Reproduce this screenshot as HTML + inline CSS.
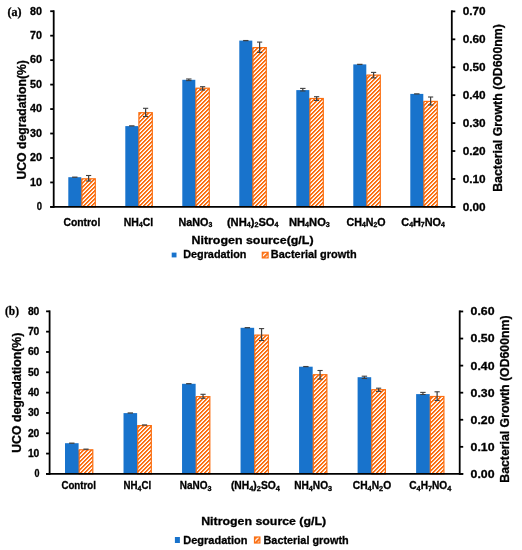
<!DOCTYPE html>
<html><head><meta charset="utf-8"><style>
html,body{margin:0;padding:0;background:#fff;}
body{width:522px;height:550px;overflow:hidden;}
svg{display:block;will-change:transform;}
</style></head><body>
<svg width="522" height="550" viewBox="0 0 522 550">
<defs>
<pattern id="hatch" patternUnits="userSpaceOnUse" width="4" height="4">
<rect x="0" y="0" width="4" height="4" fill="#fff"/>
<rect x="0" y="0" width="1" height="1" fill="#fb6f12"/><rect x="1" y="0" width="1" height="1" fill="#fb6f12"/><rect x="0" y="1" width="1" height="1" fill="#fb6f12"/><rect x="3" y="1" width="1" height="1" fill="#fb6f12"/><rect x="2" y="2" width="1" height="1" fill="#fb6f12"/><rect x="3" y="2" width="1" height="1" fill="#fb6f12"/><rect x="1" y="3" width="1" height="1" fill="#fb6f12"/><rect x="2" y="3" width="1" height="1" fill="#fb6f12"/><rect x="2" y="0" width="1" height="1" fill="#fdd9c0"/><rect x="1" y="1" width="1" height="1" fill="#fdd9c0"/><rect x="0" y="2" width="1" height="1" fill="#fdd9c0"/><rect x="3" y="3" width="1" height="1" fill="#fdd9c0"/>
</pattern>
<pattern id="hatch2" patternUnits="userSpaceOnUse" width="3.5" height="3.5" patternTransform="rotate(45)">
<rect x="0" y="0" width="3.5" height="3.5" fill="#fff"/>
<rect x="0" y="0" width="2.2" height="3.5" fill="#fb6f12"/>
</pattern>
</defs>
<rect x="0" y="0" width="522" height="550" fill="#fff"/>
<rect x="68.30" y="177.20" width="13.00" height="29.70" fill="#1873cc" />
<rect x="80.80" y="179.20" width="1.20" height="27.70" fill="#1873cc" />
<rect x="81.90" y="178.80" width="13.40" height="28.10" fill="url(#hatch)" stroke="#fb6f12" stroke-width="1.2"/>
<rect x="125.30" y="126.10" width="13.00" height="80.80" fill="#1873cc" />
<rect x="137.80" y="127.10" width="1.20" height="79.80" fill="#1873cc" />
<rect x="138.90" y="112.70" width="13.40" height="94.20" fill="url(#hatch)" stroke="#fb6f12" stroke-width="1.2"/>
<rect x="182.30" y="79.80" width="13.00" height="127.10" fill="#1873cc" />
<rect x="194.80" y="88.60" width="1.20" height="118.30" fill="#1873cc" />
<rect x="195.90" y="88.20" width="13.40" height="118.70" fill="url(#hatch)" stroke="#fb6f12" stroke-width="1.2"/>
<rect x="239.30" y="40.60" width="13.00" height="166.30" fill="#1873cc" />
<rect x="251.80" y="48.00" width="1.20" height="158.90" fill="#1873cc" />
<rect x="252.90" y="47.60" width="13.40" height="159.30" fill="url(#hatch)" stroke="#fb6f12" stroke-width="1.2"/>
<rect x="296.30" y="90.10" width="13.00" height="116.80" fill="#1873cc" />
<rect x="308.80" y="98.90" width="1.20" height="108.00" fill="#1873cc" />
<rect x="309.90" y="98.50" width="13.40" height="108.40" fill="url(#hatch)" stroke="#fb6f12" stroke-width="1.2"/>
<rect x="353.30" y="64.40" width="13.00" height="142.50" fill="#1873cc" />
<rect x="365.80" y="75.50" width="1.20" height="131.40" fill="#1873cc" />
<rect x="366.90" y="75.10" width="13.40" height="131.80" fill="url(#hatch)" stroke="#fb6f12" stroke-width="1.2"/>
<rect x="410.30" y="93.90" width="13.00" height="113.00" fill="#1873cc" />
<rect x="422.80" y="101.80" width="1.20" height="105.10" fill="#1873cc" />
<rect x="423.90" y="101.40" width="13.40" height="105.50" fill="url(#hatch)" stroke="#fb6f12" stroke-width="1.2"/>
<line x1="72.10" y1="177.20" x2="77.50" y2="177.20" stroke="#404040" stroke-width="1.3"/>
<line x1="88.60" y1="175.50" x2="88.60" y2="181.00" stroke="#404040" stroke-width="1.25"/>
<line x1="86.00" y1="175.50" x2="91.20" y2="175.50" stroke="#404040" stroke-width="1.1"/>
<line x1="86.00" y1="181.00" x2="91.20" y2="181.00" stroke="#404040" stroke-width="1.1"/>
<line x1="129.10" y1="125.90" x2="134.50" y2="125.90" stroke="#404040" stroke-width="1.3"/>
<line x1="145.60" y1="108.30" x2="145.60" y2="116.50" stroke="#404040" stroke-width="1.25"/>
<line x1="143.00" y1="108.30" x2="148.20" y2="108.30" stroke="#404040" stroke-width="1.1"/>
<line x1="143.00" y1="116.50" x2="148.20" y2="116.50" stroke="#404040" stroke-width="1.1"/>
<line x1="188.80" y1="79.00" x2="188.80" y2="80.60" stroke="#404040" stroke-width="1.25"/>
<line x1="186.10" y1="79.00" x2="191.50" y2="79.00" stroke="#404040" stroke-width="1.1"/>
<line x1="186.10" y1="80.60" x2="191.50" y2="80.60" stroke="#404040" stroke-width="1.1"/>
<line x1="202.60" y1="86.70" x2="202.60" y2="90.00" stroke="#404040" stroke-width="1.25"/>
<line x1="200.00" y1="86.70" x2="205.20" y2="86.70" stroke="#404040" stroke-width="1.1"/>
<line x1="200.00" y1="90.00" x2="205.20" y2="90.00" stroke="#404040" stroke-width="1.1"/>
<line x1="243.10" y1="40.60" x2="248.50" y2="40.60" stroke="#404040" stroke-width="1.3"/>
<line x1="259.60" y1="42.10" x2="259.60" y2="52.40" stroke="#404040" stroke-width="1.25"/>
<line x1="257.00" y1="42.10" x2="262.20" y2="42.10" stroke="#404040" stroke-width="1.1"/>
<line x1="257.00" y1="52.40" x2="262.20" y2="52.40" stroke="#404040" stroke-width="1.1"/>
<line x1="302.80" y1="88.40" x2="302.80" y2="91.00" stroke="#404040" stroke-width="1.25"/>
<line x1="300.10" y1="88.40" x2="305.50" y2="88.40" stroke="#404040" stroke-width="1.1"/>
<line x1="300.10" y1="91.00" x2="305.50" y2="91.00" stroke="#404040" stroke-width="1.1"/>
<line x1="316.60" y1="96.70" x2="316.60" y2="100.50" stroke="#404040" stroke-width="1.25"/>
<line x1="314.00" y1="96.70" x2="319.20" y2="96.70" stroke="#404040" stroke-width="1.1"/>
<line x1="314.00" y1="100.50" x2="319.20" y2="100.50" stroke="#404040" stroke-width="1.1"/>
<line x1="357.10" y1="64.40" x2="362.50" y2="64.40" stroke="#404040" stroke-width="1.3"/>
<line x1="373.60" y1="72.40" x2="373.60" y2="77.90" stroke="#404040" stroke-width="1.25"/>
<line x1="371.00" y1="72.40" x2="376.20" y2="72.40" stroke="#404040" stroke-width="1.1"/>
<line x1="371.00" y1="77.90" x2="376.20" y2="77.90" stroke="#404040" stroke-width="1.1"/>
<line x1="414.10" y1="93.90" x2="419.50" y2="93.90" stroke="#404040" stroke-width="1.3"/>
<line x1="430.60" y1="97.00" x2="430.60" y2="105.00" stroke="#404040" stroke-width="1.25"/>
<line x1="428.00" y1="97.00" x2="433.20" y2="97.00" stroke="#404040" stroke-width="1.1"/>
<line x1="428.00" y1="105.00" x2="433.20" y2="105.00" stroke="#404040" stroke-width="1.1"/>
<line x1="53.70" y1="10.30" x2="53.70" y2="207.80" stroke="#000" stroke-width="1.8"/>
<line x1="451.80" y1="10.30" x2="451.80" y2="207.80" stroke="#000" stroke-width="1.8"/>
<line x1="50.20" y1="206.90" x2="455.30" y2="206.90" stroke="#000" stroke-width="1.8"/>
<line x1="50.20" y1="206.90" x2="53.70" y2="206.90" stroke="#000" stroke-width="1.8"/>
<line x1="50.20" y1="182.44" x2="53.70" y2="182.44" stroke="#000" stroke-width="1.8"/>
<line x1="50.20" y1="157.98" x2="53.70" y2="157.98" stroke="#000" stroke-width="1.8"/>
<line x1="50.20" y1="133.52" x2="53.70" y2="133.52" stroke="#000" stroke-width="1.8"/>
<line x1="50.20" y1="109.06" x2="53.70" y2="109.06" stroke="#000" stroke-width="1.8"/>
<line x1="50.20" y1="84.60" x2="53.70" y2="84.60" stroke="#000" stroke-width="1.8"/>
<line x1="50.20" y1="60.14" x2="53.70" y2="60.14" stroke="#000" stroke-width="1.8"/>
<line x1="50.20" y1="35.68" x2="53.70" y2="35.68" stroke="#000" stroke-width="1.8"/>
<line x1="50.20" y1="11.22" x2="53.70" y2="11.22" stroke="#000" stroke-width="1.8"/>
<line x1="451.80" y1="206.90" x2="455.30" y2="206.90" stroke="#000" stroke-width="1.8"/>
<line x1="451.80" y1="178.97" x2="455.30" y2="178.97" stroke="#000" stroke-width="1.8"/>
<line x1="451.80" y1="151.04" x2="455.30" y2="151.04" stroke="#000" stroke-width="1.8"/>
<line x1="451.80" y1="123.11" x2="455.30" y2="123.11" stroke="#000" stroke-width="1.8"/>
<line x1="451.80" y1="95.18" x2="455.30" y2="95.18" stroke="#000" stroke-width="1.8"/>
<line x1="451.80" y1="67.25" x2="455.30" y2="67.25" stroke="#000" stroke-width="1.8"/>
<line x1="451.80" y1="39.32" x2="455.30" y2="39.32" stroke="#000" stroke-width="1.8"/>
<line x1="451.80" y1="11.39" x2="455.30" y2="11.39" stroke="#000" stroke-width="1.8"/>
<text x="36.80" y="210.20" font-family='"Liberation Sans", sans-serif' font-weight="bold" font-size="10.50" fill="#000" stroke="#000" stroke-width="0.3" textLength="5.26" lengthAdjust="spacingAndGlyphs"><tspan font-size="10.50" dy="0.00">0</tspan></text>
<text x="30.10" y="185.74" font-family='"Liberation Sans", sans-serif' font-weight="bold" font-size="10.50" fill="#000" stroke="#000" stroke-width="0.3" textLength="11.96" lengthAdjust="spacingAndGlyphs"><tspan font-size="10.50" dy="0.00">10</tspan></text>
<text x="30.10" y="161.28" font-family='"Liberation Sans", sans-serif' font-weight="bold" font-size="10.50" fill="#000" stroke="#000" stroke-width="0.3" textLength="11.96" lengthAdjust="spacingAndGlyphs"><tspan font-size="10.50" dy="0.00">20</tspan></text>
<text x="30.10" y="136.82" font-family='"Liberation Sans", sans-serif' font-weight="bold" font-size="10.50" fill="#000" stroke="#000" stroke-width="0.3" textLength="11.96" lengthAdjust="spacingAndGlyphs"><tspan font-size="10.50" dy="0.00">30</tspan></text>
<text x="30.10" y="112.36" font-family='"Liberation Sans", sans-serif' font-weight="bold" font-size="10.50" fill="#000" stroke="#000" stroke-width="0.3" textLength="11.96" lengthAdjust="spacingAndGlyphs"><tspan font-size="10.50" dy="0.00">40</tspan></text>
<text x="30.10" y="87.90" font-family='"Liberation Sans", sans-serif' font-weight="bold" font-size="10.50" fill="#000" stroke="#000" stroke-width="0.3" textLength="11.96" lengthAdjust="spacingAndGlyphs"><tspan font-size="10.50" dy="0.00">50</tspan></text>
<text x="30.10" y="63.44" font-family='"Liberation Sans", sans-serif' font-weight="bold" font-size="10.50" fill="#000" stroke="#000" stroke-width="0.3" textLength="11.96" lengthAdjust="spacingAndGlyphs"><tspan font-size="10.50" dy="0.00">60</tspan></text>
<text x="30.10" y="38.98" font-family='"Liberation Sans", sans-serif' font-weight="bold" font-size="10.50" fill="#000" stroke="#000" stroke-width="0.3" textLength="11.96" lengthAdjust="spacingAndGlyphs"><tspan font-size="10.50" dy="0.00">70</tspan></text>
<text x="30.10" y="14.52" font-family='"Liberation Sans", sans-serif' font-weight="bold" font-size="10.50" fill="#000" stroke="#000" stroke-width="0.3" textLength="11.96" lengthAdjust="spacingAndGlyphs"><tspan font-size="10.50" dy="0.00">80</tspan></text>
<text x="462.70" y="210.50" font-family='"Liberation Sans", sans-serif' font-weight="bold" font-size="10.50" fill="#000" stroke="#000" stroke-width="0.3" textLength="22.95" lengthAdjust="spacingAndGlyphs"><tspan font-size="10.50" dy="0.00">0.00</tspan></text>
<text x="462.70" y="182.57" font-family='"Liberation Sans", sans-serif' font-weight="bold" font-size="10.50" fill="#000" stroke="#000" stroke-width="0.3" textLength="22.95" lengthAdjust="spacingAndGlyphs"><tspan font-size="10.50" dy="0.00">0.10</tspan></text>
<text x="462.70" y="154.64" font-family='"Liberation Sans", sans-serif' font-weight="bold" font-size="10.50" fill="#000" stroke="#000" stroke-width="0.3" textLength="22.95" lengthAdjust="spacingAndGlyphs"><tspan font-size="10.50" dy="0.00">0.20</tspan></text>
<text x="462.70" y="126.71" font-family='"Liberation Sans", sans-serif' font-weight="bold" font-size="10.50" fill="#000" stroke="#000" stroke-width="0.3" textLength="22.95" lengthAdjust="spacingAndGlyphs"><tspan font-size="10.50" dy="0.00">0.30</tspan></text>
<text x="462.70" y="98.78" font-family='"Liberation Sans", sans-serif' font-weight="bold" font-size="10.50" fill="#000" stroke="#000" stroke-width="0.3" textLength="22.95" lengthAdjust="spacingAndGlyphs"><tspan font-size="10.50" dy="0.00">0.40</tspan></text>
<text x="462.70" y="70.85" font-family='"Liberation Sans", sans-serif' font-weight="bold" font-size="10.50" fill="#000" stroke="#000" stroke-width="0.3" textLength="22.95" lengthAdjust="spacingAndGlyphs"><tspan font-size="10.50" dy="0.00">0.50</tspan></text>
<text x="462.70" y="42.92" font-family='"Liberation Sans", sans-serif' font-weight="bold" font-size="10.50" fill="#000" stroke="#000" stroke-width="0.3" textLength="22.95" lengthAdjust="spacingAndGlyphs"><tspan font-size="10.50" dy="0.00">0.60</tspan></text>
<text x="462.70" y="14.99" font-family='"Liberation Sans", sans-serif' font-weight="bold" font-size="10.50" fill="#000" stroke="#000" stroke-width="0.3" textLength="22.95" lengthAdjust="spacingAndGlyphs"><tspan font-size="10.50" dy="0.00">0.70</tspan></text>
<text x="63.40" y="225.70" font-family='"Liberation Sans", sans-serif' font-weight="bold" font-size="10.30" fill="#000" stroke="#000" stroke-width="0.3" textLength="36.88" lengthAdjust="spacingAndGlyphs"><tspan font-size="10.30" dy="0.00">Control</tspan></text>
<text x="123.80" y="225.70" font-family='"Liberation Sans", sans-serif' font-weight="bold" font-size="10.30" fill="#000" stroke="#000" stroke-width="0.3" textLength="29.38" lengthAdjust="spacingAndGlyphs"><tspan font-size="10.30" dy="0.00">NH</tspan><tspan font-size="6.59" dy="1.03">4</tspan><tspan font-size="10.30" dy="-1.03">Cl</tspan></text>
<text x="178.50" y="225.70" font-family='"Liberation Sans", sans-serif' font-weight="bold" font-size="10.30" fill="#000" stroke="#000" stroke-width="0.3" textLength="33.76" lengthAdjust="spacingAndGlyphs"><tspan font-size="10.30" dy="0.00">NaNO</tspan><tspan font-size="6.59" dy="1.03">3</tspan></text>
<text x="226.90" y="225.70" font-family='"Liberation Sans", sans-serif' font-weight="bold" font-size="10.30" fill="#000" stroke="#000" stroke-width="0.3" textLength="51.65" lengthAdjust="spacingAndGlyphs"><tspan font-size="10.30" dy="0.00">(NH</tspan><tspan font-size="6.59" dy="1.03">4</tspan><tspan font-size="10.30" dy="-1.03">)</tspan><tspan font-size="6.59" dy="1.03">2</tspan><tspan font-size="10.30" dy="-1.03">SO</tspan><tspan font-size="6.59" dy="1.03">4</tspan></text>
<text x="289.00" y="225.70" font-family='"Liberation Sans", sans-serif' font-weight="bold" font-size="10.30" fill="#000" stroke="#000" stroke-width="0.3" textLength="40.85" lengthAdjust="spacingAndGlyphs"><tspan font-size="10.30" dy="0.00">NH</tspan><tspan font-size="6.59" dy="1.03">4</tspan><tspan font-size="10.30" dy="-1.03">NO</tspan><tspan font-size="6.59" dy="1.03">3</tspan></text>
<text x="346.60" y="225.70" font-family='"Liberation Sans", sans-serif' font-weight="bold" font-size="10.30" fill="#000" stroke="#000" stroke-width="0.3" textLength="38.98" lengthAdjust="spacingAndGlyphs"><tspan font-size="10.30" dy="0.00">CH</tspan><tspan font-size="6.59" dy="1.03">4</tspan><tspan font-size="10.30" dy="-1.03">N</tspan><tspan font-size="6.59" dy="1.03">2</tspan><tspan font-size="10.30" dy="-1.03">O</tspan></text>
<text x="401.30" y="225.70" font-family='"Liberation Sans", sans-serif' font-weight="bold" font-size="10.30" fill="#000" stroke="#000" stroke-width="0.3" textLength="43.66" lengthAdjust="spacingAndGlyphs"><tspan font-size="10.30" dy="0.00">C</tspan><tspan font-size="6.59" dy="1.03">4</tspan><tspan font-size="10.30" dy="-1.03">H</tspan><tspan font-size="6.59" dy="1.03">7</tspan><tspan font-size="10.30" dy="-1.03">NO</tspan><tspan font-size="6.59" dy="1.03">4</tspan></text>
<text x="191.50" y="244.20" font-family='"Liberation Sans", sans-serif' font-weight="bold" font-size="11.20" fill="#000" stroke="#000" stroke-width="0.3" textLength="122.04" lengthAdjust="spacingAndGlyphs"><tspan font-size="11.20" dy="0.00">Nitrogen source(g/L)</tspan></text>
<text x="25.90" y="179.60" transform="rotate(-90 25.90 179.60)" font-family='"Liberation Sans", sans-serif' font-weight="bold" font-size="12.90" fill="#000" stroke="#000" stroke-width="0.3" textLength="119.54" lengthAdjust="spacingAndGlyphs"><tspan font-size="12.90" dy="0.00">UCO degradation(%)</tspan></text>
<text x="502.30" y="191.80" transform="rotate(-90 502.30 191.80)" font-family='"Liberation Sans", sans-serif' font-weight="bold" font-size="12.90" fill="#000" stroke="#000" stroke-width="0.3" textLength="167.64" lengthAdjust="spacingAndGlyphs"><tspan font-size="12.90" dy="0.00">Bacterial Growth (OD600nm)</tspan></text>
<rect x="171.70" y="252.60" width="4.80" height="4.80" fill="#1873cc" />
<rect x="262.30" y="252.30" width="5.80" height="5.60" fill="url(#hatch2)" stroke="#fb6f12" stroke-width="1.2"/>
<text x="183.20" y="257.80" font-family='"Liberation Sans", sans-serif' font-weight="bold" font-size="11.20" fill="#000" stroke="#000" stroke-width="0.3" textLength="63.21" lengthAdjust="spacingAndGlyphs"><tspan font-size="11.20" dy="0.00">Degradation</tspan></text>
<text x="270.80" y="257.80" font-family='"Liberation Sans", sans-serif' font-weight="bold" font-size="11.20" fill="#000" stroke="#000" stroke-width="0.3" textLength="85.81" lengthAdjust="spacingAndGlyphs"><tspan font-size="11.20" dy="0.00">Bacterial growth</tspan></text>
<text x="7.60" y="15.60" font-family='"Liberation Serif", serif' font-weight="bold" font-size="12.00" fill="#000" stroke="#000" stroke-width="0.3" textLength="14.04" lengthAdjust="spacingAndGlyphs"><tspan font-size="12.00" dy="0.00">(a)</tspan></text>
<rect x="65.00" y="443.20" width="13.60" height="30.70" fill="#1873cc" />
<rect x="78.10" y="450.20" width="1.20" height="23.70" fill="#1873cc" />
<rect x="79.20" y="449.80" width="13.60" height="24.10" fill="url(#hatch)" stroke="#fb6f12" stroke-width="1.2"/>
<rect x="123.52" y="413.10" width="13.60" height="60.80" fill="#1873cc" />
<rect x="136.62" y="426.00" width="1.20" height="47.90" fill="#1873cc" />
<rect x="137.72" y="425.60" width="13.60" height="48.30" fill="url(#hatch)" stroke="#fb6f12" stroke-width="1.2"/>
<rect x="182.04" y="383.80" width="13.60" height="90.10" fill="#1873cc" />
<rect x="195.14" y="397.00" width="1.20" height="76.90" fill="#1873cc" />
<rect x="196.24" y="396.60" width="13.60" height="77.30" fill="url(#hatch)" stroke="#fb6f12" stroke-width="1.2"/>
<rect x="240.56" y="327.80" width="13.60" height="146.10" fill="#1873cc" />
<rect x="253.66" y="335.50" width="1.20" height="138.40" fill="#1873cc" />
<rect x="254.76" y="335.10" width="13.60" height="138.80" fill="url(#hatch)" stroke="#fb6f12" stroke-width="1.2"/>
<rect x="299.08" y="366.70" width="13.60" height="107.20" fill="#1873cc" />
<rect x="312.18" y="375.10" width="1.20" height="98.80" fill="#1873cc" />
<rect x="313.28" y="374.70" width="13.60" height="99.20" fill="url(#hatch)" stroke="#fb6f12" stroke-width="1.2"/>
<rect x="357.60" y="377.20" width="13.60" height="96.70" fill="#1873cc" />
<rect x="370.70" y="390.10" width="1.20" height="83.80" fill="#1873cc" />
<rect x="371.80" y="389.70" width="13.60" height="84.20" fill="url(#hatch)" stroke="#fb6f12" stroke-width="1.2"/>
<rect x="416.12" y="394.10" width="13.60" height="79.80" fill="#1873cc" />
<rect x="429.22" y="396.90" width="1.20" height="77.00" fill="#1873cc" />
<rect x="430.32" y="396.50" width="13.60" height="77.40" fill="url(#hatch)" stroke="#fb6f12" stroke-width="1.2"/>
<line x1="69.10" y1="443.20" x2="74.50" y2="443.20" stroke="#404040" stroke-width="1.3"/>
<line x1="83.40" y1="449.20" x2="88.60" y2="449.20" stroke="#404040" stroke-width="1.3"/>
<line x1="127.62" y1="413.00" x2="133.02" y2="413.00" stroke="#404040" stroke-width="1.3"/>
<line x1="141.92" y1="425.00" x2="147.12" y2="425.00" stroke="#404040" stroke-width="1.3"/>
<line x1="186.14" y1="383.70" x2="191.54" y2="383.70" stroke="#404040" stroke-width="1.3"/>
<line x1="203.04" y1="394.30" x2="203.04" y2="398.30" stroke="#404040" stroke-width="1.25"/>
<line x1="200.44" y1="394.30" x2="205.64" y2="394.30" stroke="#404040" stroke-width="1.1"/>
<line x1="200.44" y1="398.30" x2="205.64" y2="398.30" stroke="#404040" stroke-width="1.1"/>
<line x1="244.66" y1="327.70" x2="250.06" y2="327.70" stroke="#404040" stroke-width="1.3"/>
<line x1="261.56" y1="328.60" x2="261.56" y2="340.50" stroke="#404040" stroke-width="1.25"/>
<line x1="258.96" y1="328.60" x2="264.16" y2="328.60" stroke="#404040" stroke-width="1.1"/>
<line x1="258.96" y1="340.50" x2="264.16" y2="340.50" stroke="#404040" stroke-width="1.1"/>
<line x1="303.18" y1="366.60" x2="308.58" y2="366.60" stroke="#404040" stroke-width="1.3"/>
<line x1="320.08" y1="370.50" x2="320.08" y2="379.10" stroke="#404040" stroke-width="1.25"/>
<line x1="317.48" y1="370.50" x2="322.68" y2="370.50" stroke="#404040" stroke-width="1.1"/>
<line x1="317.48" y1="379.10" x2="322.68" y2="379.10" stroke="#404040" stroke-width="1.1"/>
<line x1="364.40" y1="376.20" x2="364.40" y2="378.50" stroke="#404040" stroke-width="1.25"/>
<line x1="361.70" y1="376.20" x2="367.10" y2="376.20" stroke="#404040" stroke-width="1.1"/>
<line x1="361.70" y1="378.50" x2="367.10" y2="378.50" stroke="#404040" stroke-width="1.1"/>
<line x1="378.60" y1="388.20" x2="378.60" y2="391.40" stroke="#404040" stroke-width="1.25"/>
<line x1="376.00" y1="388.20" x2="381.20" y2="388.20" stroke="#404040" stroke-width="1.1"/>
<line x1="376.00" y1="391.40" x2="381.20" y2="391.40" stroke="#404040" stroke-width="1.1"/>
<line x1="422.92" y1="392.40" x2="422.92" y2="394.50" stroke="#404040" stroke-width="1.25"/>
<line x1="420.22" y1="392.40" x2="425.62" y2="392.40" stroke="#404040" stroke-width="1.1"/>
<line x1="420.22" y1="394.50" x2="425.62" y2="394.50" stroke="#404040" stroke-width="1.1"/>
<line x1="437.12" y1="391.80" x2="437.12" y2="400.50" stroke="#404040" stroke-width="1.25"/>
<line x1="434.52" y1="391.80" x2="439.72" y2="391.80" stroke="#404040" stroke-width="1.1"/>
<line x1="434.52" y1="400.50" x2="439.72" y2="400.50" stroke="#404040" stroke-width="1.1"/>
<line x1="49.60" y1="310.40" x2="49.60" y2="474.80" stroke="#000" stroke-width="1.8"/>
<line x1="459.70" y1="310.40" x2="459.70" y2="474.80" stroke="#000" stroke-width="1.8"/>
<line x1="46.10" y1="473.90" x2="463.20" y2="473.90" stroke="#000" stroke-width="1.8"/>
<line x1="46.10" y1="473.90" x2="49.60" y2="473.90" stroke="#000" stroke-width="1.8"/>
<line x1="46.10" y1="453.58" x2="49.60" y2="453.58" stroke="#000" stroke-width="1.8"/>
<line x1="46.10" y1="433.26" x2="49.60" y2="433.26" stroke="#000" stroke-width="1.8"/>
<line x1="46.10" y1="412.94" x2="49.60" y2="412.94" stroke="#000" stroke-width="1.8"/>
<line x1="46.10" y1="392.62" x2="49.60" y2="392.62" stroke="#000" stroke-width="1.8"/>
<line x1="46.10" y1="372.30" x2="49.60" y2="372.30" stroke="#000" stroke-width="1.8"/>
<line x1="46.10" y1="351.98" x2="49.60" y2="351.98" stroke="#000" stroke-width="1.8"/>
<line x1="46.10" y1="331.66" x2="49.60" y2="331.66" stroke="#000" stroke-width="1.8"/>
<line x1="46.10" y1="311.34" x2="49.60" y2="311.34" stroke="#000" stroke-width="1.8"/>
<line x1="459.70" y1="473.90" x2="463.20" y2="473.90" stroke="#000" stroke-width="1.8"/>
<line x1="459.70" y1="446.83" x2="463.20" y2="446.83" stroke="#000" stroke-width="1.8"/>
<line x1="459.70" y1="419.76" x2="463.20" y2="419.76" stroke="#000" stroke-width="1.8"/>
<line x1="459.70" y1="392.69" x2="463.20" y2="392.69" stroke="#000" stroke-width="1.8"/>
<line x1="459.70" y1="365.62" x2="463.20" y2="365.62" stroke="#000" stroke-width="1.8"/>
<line x1="459.70" y1="338.55" x2="463.20" y2="338.55" stroke="#000" stroke-width="1.8"/>
<line x1="459.70" y1="311.48" x2="463.20" y2="311.48" stroke="#000" stroke-width="1.8"/>
<text x="34.40" y="477.40" font-family='"Liberation Sans", sans-serif' font-weight="bold" font-size="10.40" fill="#000" stroke="#000" stroke-width="0.3" textLength="4.97" lengthAdjust="spacingAndGlyphs"><tspan font-size="10.40" dy="0.00">0</tspan></text>
<text x="27.90" y="457.08" font-family='"Liberation Sans", sans-serif' font-weight="bold" font-size="10.40" fill="#000" stroke="#000" stroke-width="0.3" textLength="11.46" lengthAdjust="spacingAndGlyphs"><tspan font-size="10.40" dy="0.00">10</tspan></text>
<text x="27.90" y="436.76" font-family='"Liberation Sans", sans-serif' font-weight="bold" font-size="10.40" fill="#000" stroke="#000" stroke-width="0.3" textLength="11.46" lengthAdjust="spacingAndGlyphs"><tspan font-size="10.40" dy="0.00">20</tspan></text>
<text x="27.90" y="416.44" font-family='"Liberation Sans", sans-serif' font-weight="bold" font-size="10.40" fill="#000" stroke="#000" stroke-width="0.3" textLength="11.46" lengthAdjust="spacingAndGlyphs"><tspan font-size="10.40" dy="0.00">30</tspan></text>
<text x="27.90" y="396.12" font-family='"Liberation Sans", sans-serif' font-weight="bold" font-size="10.40" fill="#000" stroke="#000" stroke-width="0.3" textLength="11.46" lengthAdjust="spacingAndGlyphs"><tspan font-size="10.40" dy="0.00">40</tspan></text>
<text x="27.90" y="375.80" font-family='"Liberation Sans", sans-serif' font-weight="bold" font-size="10.40" fill="#000" stroke="#000" stroke-width="0.3" textLength="11.46" lengthAdjust="spacingAndGlyphs"><tspan font-size="10.40" dy="0.00">50</tspan></text>
<text x="27.90" y="355.48" font-family='"Liberation Sans", sans-serif' font-weight="bold" font-size="10.40" fill="#000" stroke="#000" stroke-width="0.3" textLength="11.46" lengthAdjust="spacingAndGlyphs"><tspan font-size="10.40" dy="0.00">60</tspan></text>
<text x="27.90" y="335.16" font-family='"Liberation Sans", sans-serif' font-weight="bold" font-size="10.40" fill="#000" stroke="#000" stroke-width="0.3" textLength="11.46" lengthAdjust="spacingAndGlyphs"><tspan font-size="10.40" dy="0.00">70</tspan></text>
<text x="27.90" y="314.84" font-family='"Liberation Sans", sans-serif' font-weight="bold" font-size="10.40" fill="#000" stroke="#000" stroke-width="0.3" textLength="11.46" lengthAdjust="spacingAndGlyphs"><tspan font-size="10.40" dy="0.00">80</tspan></text>
<text x="470.60" y="477.80" font-family='"Liberation Sans", sans-serif' font-weight="bold" font-size="10.40" fill="#000" stroke="#000" stroke-width="0.3" textLength="23.95" lengthAdjust="spacingAndGlyphs"><tspan font-size="10.40" dy="0.00">0.00</tspan></text>
<text x="470.60" y="450.73" font-family='"Liberation Sans", sans-serif' font-weight="bold" font-size="10.40" fill="#000" stroke="#000" stroke-width="0.3" textLength="23.95" lengthAdjust="spacingAndGlyphs"><tspan font-size="10.40" dy="0.00">0.10</tspan></text>
<text x="470.60" y="423.66" font-family='"Liberation Sans", sans-serif' font-weight="bold" font-size="10.40" fill="#000" stroke="#000" stroke-width="0.3" textLength="23.95" lengthAdjust="spacingAndGlyphs"><tspan font-size="10.40" dy="0.00">0.20</tspan></text>
<text x="470.60" y="396.59" font-family='"Liberation Sans", sans-serif' font-weight="bold" font-size="10.40" fill="#000" stroke="#000" stroke-width="0.3" textLength="23.95" lengthAdjust="spacingAndGlyphs"><tspan font-size="10.40" dy="0.00">0.30</tspan></text>
<text x="470.60" y="369.52" font-family='"Liberation Sans", sans-serif' font-weight="bold" font-size="10.40" fill="#000" stroke="#000" stroke-width="0.3" textLength="23.95" lengthAdjust="spacingAndGlyphs"><tspan font-size="10.40" dy="0.00">0.40</tspan></text>
<text x="470.60" y="342.45" font-family='"Liberation Sans", sans-serif' font-weight="bold" font-size="10.40" fill="#000" stroke="#000" stroke-width="0.3" textLength="23.95" lengthAdjust="spacingAndGlyphs"><tspan font-size="10.40" dy="0.00">0.50</tspan></text>
<text x="470.60" y="315.38" font-family='"Liberation Sans", sans-serif' font-weight="bold" font-size="10.40" fill="#000" stroke="#000" stroke-width="0.3" textLength="23.95" lengthAdjust="spacingAndGlyphs"><tspan font-size="10.40" dy="0.00">0.60</tspan></text>
<text x="61.40" y="489.40" font-family='"Liberation Sans", sans-serif' font-weight="bold" font-size="10.00" fill="#000" stroke="#000" stroke-width="0.3" textLength="34.48" lengthAdjust="spacingAndGlyphs"><tspan font-size="10.00" dy="0.00">Control</tspan></text>
<text x="123.50" y="489.40" font-family='"Liberation Sans", sans-serif' font-weight="bold" font-size="10.00" fill="#000" stroke="#000" stroke-width="0.3" textLength="27.58" lengthAdjust="spacingAndGlyphs"><tspan font-size="10.00" dy="0.00">NH</tspan><tspan font-size="7.20" dy="2.00">4</tspan><tspan font-size="10.00" dy="-2.00">Cl</tspan></text>
<text x="179.70" y="489.40" font-family='"Liberation Sans", sans-serif' font-weight="bold" font-size="10.00" fill="#000" stroke="#000" stroke-width="0.3" textLength="31.70" lengthAdjust="spacingAndGlyphs"><tspan font-size="10.00" dy="0.00">NaNO</tspan><tspan font-size="7.20" dy="2.00">3</tspan></text>
<text x="230.90" y="489.40" font-family='"Liberation Sans", sans-serif' font-weight="bold" font-size="10.00" fill="#000" stroke="#000" stroke-width="0.3" textLength="49.00" lengthAdjust="spacingAndGlyphs"><tspan font-size="10.00" dy="0.00">(NH</tspan><tspan font-size="7.20" dy="2.00">4</tspan><tspan font-size="10.00" dy="-2.00">)</tspan><tspan font-size="7.20" dy="2.00">2</tspan><tspan font-size="10.00" dy="-2.00">SO</tspan><tspan font-size="7.20" dy="2.00">4</tspan></text>
<text x="294.20" y="489.40" font-family='"Liberation Sans", sans-serif' font-weight="bold" font-size="10.00" fill="#000" stroke="#000" stroke-width="0.3" textLength="37.90" lengthAdjust="spacingAndGlyphs"><tspan font-size="10.00" dy="0.00">NH</tspan><tspan font-size="7.20" dy="2.00">4</tspan><tspan font-size="10.00" dy="-2.00">NO</tspan><tspan font-size="7.20" dy="2.00">3</tspan></text>
<text x="352.80" y="489.40" font-family='"Liberation Sans", sans-serif' font-weight="bold" font-size="10.00" fill="#000" stroke="#000" stroke-width="0.3" textLength="38.38" lengthAdjust="spacingAndGlyphs"><tspan font-size="10.00" dy="0.00">CH</tspan><tspan font-size="7.20" dy="2.00">4</tspan><tspan font-size="10.00" dy="-2.00">N</tspan><tspan font-size="7.20" dy="2.00">2</tspan><tspan font-size="10.00" dy="-2.00">O</tspan></text>
<text x="409.30" y="489.40" font-family='"Liberation Sans", sans-serif' font-weight="bold" font-size="10.00" fill="#000" stroke="#000" stroke-width="0.3" textLength="42.00" lengthAdjust="spacingAndGlyphs"><tspan font-size="10.00" dy="0.00">C</tspan><tspan font-size="7.20" dy="2.00">4</tspan><tspan font-size="10.00" dy="-2.00">H</tspan><tspan font-size="7.20" dy="2.00">7</tspan><tspan font-size="10.00" dy="-2.00">NO</tspan><tspan font-size="7.20" dy="2.00">4</tspan></text>
<text x="201.20" y="525.00" font-family='"Liberation Sans", sans-serif' font-weight="bold" font-size="11.30" fill="#000" stroke="#000" stroke-width="0.3" textLength="124.94" lengthAdjust="spacingAndGlyphs"><tspan font-size="11.30" dy="0.00">Nitrogen source (g/L)</tspan></text>
<text x="20.90" y="452.80" transform="rotate(-90 20.90 452.80)" font-family='"Liberation Sans", sans-serif' font-weight="bold" font-size="12.40" fill="#000" stroke="#000" stroke-width="0.3" textLength="120.14" lengthAdjust="spacingAndGlyphs"><tspan font-size="12.40" dy="0.00">UCO degradation(%)</tspan></text>
<text x="509.50" y="482.70" transform="rotate(-90 509.50 482.70)" font-family='"Liberation Sans", sans-serif' font-weight="bold" font-size="12.60" fill="#000" stroke="#000" stroke-width="0.3" textLength="167.24" lengthAdjust="spacingAndGlyphs"><tspan font-size="12.60" dy="0.00">Bacterial Growth (OD600nm)</tspan></text>
<rect x="174.90" y="537.00" width="5.00" height="6.00" fill="#1873cc" />
<rect x="254.50" y="537.00" width="5.40" height="6.00" fill="url(#hatch2)" stroke="#fb6f12" stroke-width="1.2"/>
<text x="183.30" y="544.00" font-family='"Liberation Sans", sans-serif' font-weight="bold" font-size="11.20" fill="#000" stroke="#000" stroke-width="0.3" textLength="64.11" lengthAdjust="spacingAndGlyphs"><tspan font-size="11.20" dy="0.00">Degradation</tspan></text>
<text x="263.50" y="544.00" font-family='"Liberation Sans", sans-serif' font-weight="bold" font-size="11.20" fill="#000" stroke="#000" stroke-width="0.3" textLength="85.21" lengthAdjust="spacingAndGlyphs"><tspan font-size="11.20" dy="0.00">Bacterial growth</tspan></text>
<text x="5.00" y="314.70" font-family='"Liberation Serif", serif' font-weight="bold" font-size="12.00" fill="#000" stroke="#000" stroke-width="0.3" textLength="13.93" lengthAdjust="spacingAndGlyphs"><tspan font-size="12.00" dy="0.00">(b)</tspan></text>
</svg>
</body></html>
